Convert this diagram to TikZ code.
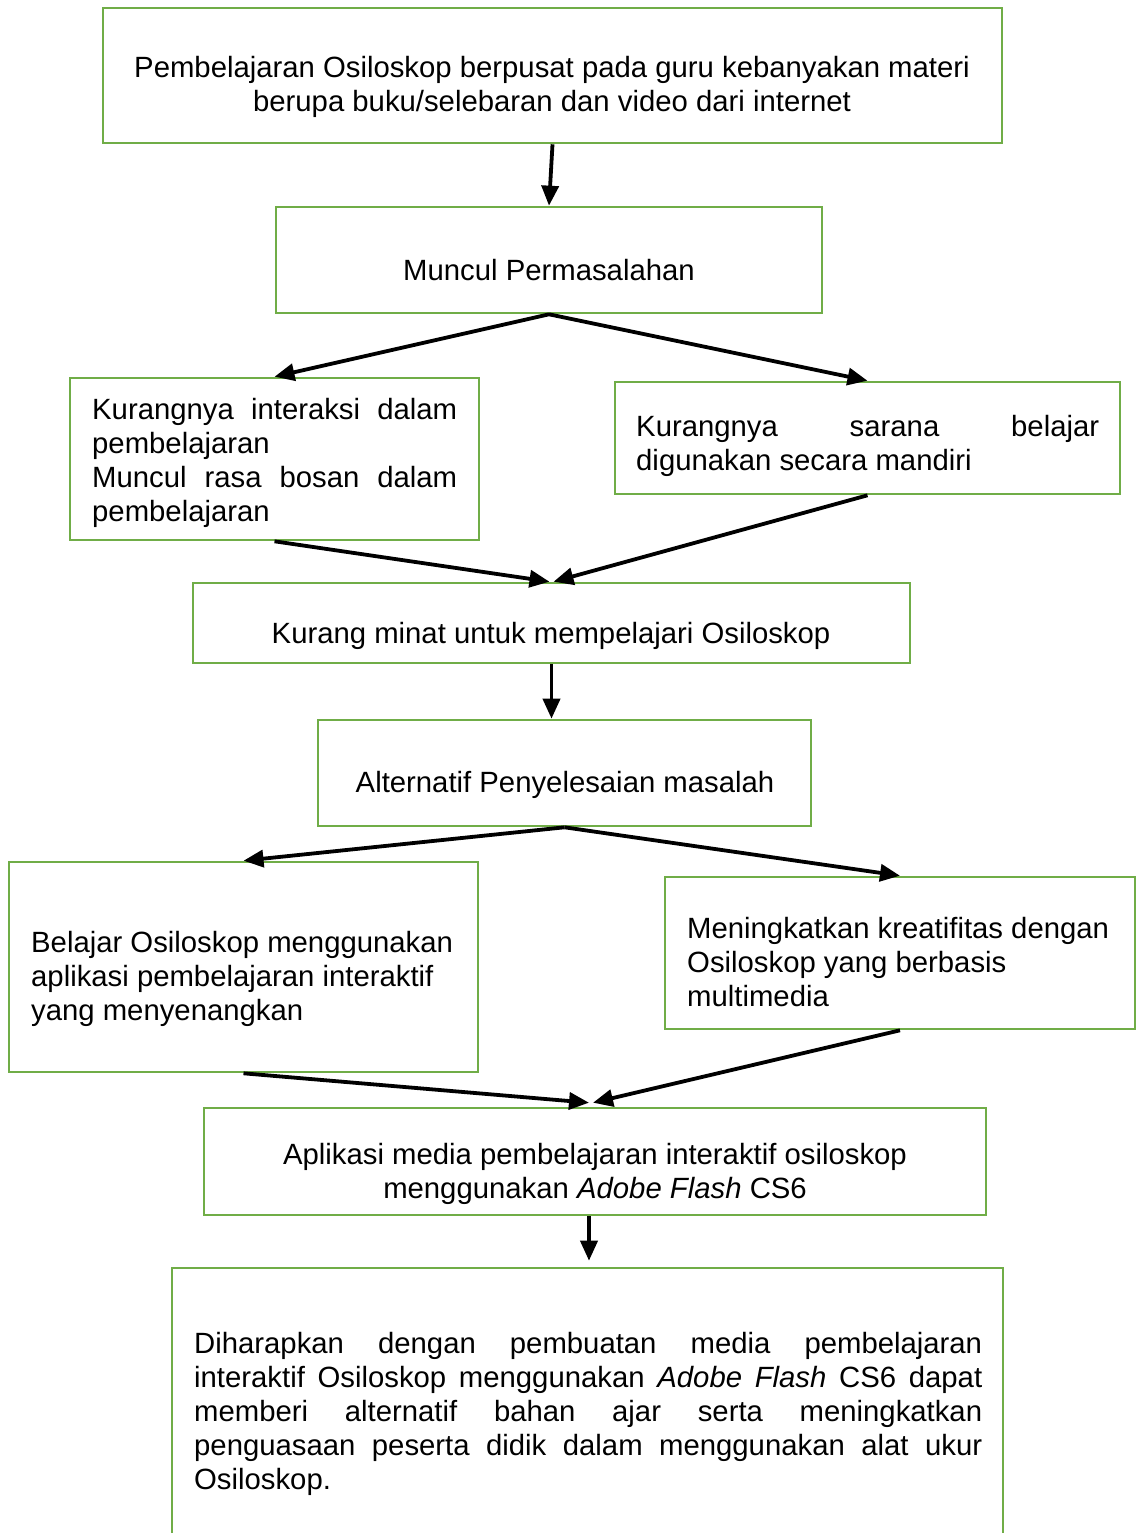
\documentclass[tikz,border=0pt]{standalone}
\usepackage{fontspec}
\setmainfont{Liberation Sans}
\usetikzlibrary{arrows.meta}
\definecolor{boxgreen}{RGB}{112,173,71}
\tikzset{
  box/.style={draw=boxgreen, line width=2.6pt, inner sep=0pt, rectangle},
  txt/.style={inner sep=0pt, font=\fontsize{29.3}{34}\selectfont},
  arr/.style={line width=3.8pt, -{Triangle[length=20pt,width=17pt]}}
}
\begin{document}
\begin{tikzpicture}[x=1pt,y=-1pt]
\useasboundingbox (0,0) rectangle (1136,1533);
\fill[white] (0,0) rectangle (1136,1533);
\clip (0,0) rectangle (1136,1533);
% boxes
\node[box, minimum width=899pt, minimum height=135pt] (b1) at (552.5,75.5) {};
\node[box, minimum width=546pt, minimum height=106pt] (b2) at (549,260) {};
\node[box, minimum width=409pt, minimum height=162pt] (b3) at (274.5,459) {};
\node[box, minimum width=505pt, minimum height=112pt] (b4) at (867.5,438) {};
\node[box, minimum width=717pt, minimum height=80pt] (b5) at (551.5,623) {};
\node[box, minimum width=493pt, minimum height=106pt] (b6) at (564.5,773) {};
\node[box, minimum width=469pt, minimum height=210pt] (b7) at (243.5,967) {};
\node[box, minimum width=470pt, minimum height=152pt] (b8) at (900,953) {};
\node[box, minimum width=782pt, minimum height=107pt] (b9) at (595,1161.5) {};
\node[box, minimum width=831pt, minimum height=292pt] (b10) at (587.5,1414) {};
% texts
\node[txt, anchor=north, align=center] (t1) at (552,53.2)
  {\strut Pembelajaran Osiloskop berpusat pada guru kebanyakan materi\\berupa buku/selebaran dan video dari internet};
\node[txt, anchor=north, align=center] (t2) at (549,256.2)
  {\strut Muncul Permasalahan};
\node[txt, anchor=north west, text width=365pt, align=justify] (t3) at (92,395.2)
  {\strut Kurangnya interaksi dalam\linebreak pembelajaran\par
   Muncul rasa bosan dalam\linebreak pembelajaran};
\node[txt, anchor=north west, text width=463pt, align=justify] (t4) at (636,412.2)
  {\strut Kurangnya sarana belajar\linebreak digunakan secara mandiri};
\node[txt, anchor=north, align=center] (t5) at (551,619.2)
  {\strut Kurang minat untuk mempelajari Osiloskop};
\node[txt, anchor=north, align=center] (t6) at (565,768.2)
  {\strut Alternatif Penyelesaian masalah};
\node[txt, anchor=north west, align=left] (t7) at (31,928.2)
  {\strut Belajar Osiloskop menggunakan\\aplikasi pembelajaran interaktif\\yang menyenangkan};
\node[txt, anchor=north west, align=left] (t8) at (687,914.2)
  {\strut Meningkatkan kreatifitas dengan\\Osiloskop yang berbasis\\multimedia};
\node[txt, anchor=north, align=center] (t9) at (595,1140.2)
  {\strut Aplikasi media pembelajaran interaktif osiloskop\\menggunakan \textit{Adobe Flash} CS6};
\node[txt, anchor=north west, text width=788pt, align=justify] (t10) at (194,1329.2)
  {\strut Diharapkan dengan pembuatan media pembelajaran\linebreak
   interaktif Osiloskop menggunakan \textit{Adobe Flash} CS6 dapat\linebreak
   memberi alternatif bahan ajar serta meningkatkan\linebreak
   penguasaan peserta didik dalam menggunakan alat ukur\linebreak
   Osiloskop.};
% arrows
\draw[arr] (b1.south) -- (b2.north);
\draw[arr] (b2.south) -- (b3.north);
\draw[arr] (b2.south) -- (b4.north);
\draw[arr] (b3.south) -- ([xshift=-2pt]b5.north);
\draw[arr] (b4.south) -- ([xshift=2pt]b5.north);
\draw[arr] (b5.south) -- (b5.south |- b6.north);
\draw[arr] (b6.south) -- (b7.north);
\draw[arr] (b6.south) -- (b8.north);
\draw[arr] (b7.south) -- ([xshift=-6pt,yshift=4pt]b9.north);
\draw[arr] (b8.south) -- ([xshift=-2pt,yshift=4pt]b9.north);
\draw[arr] ([xshift=-6pt]b9.south) -- ([xshift=1.5pt,yshift=6pt]b10.north);
\end{tikzpicture}
\end{document}
